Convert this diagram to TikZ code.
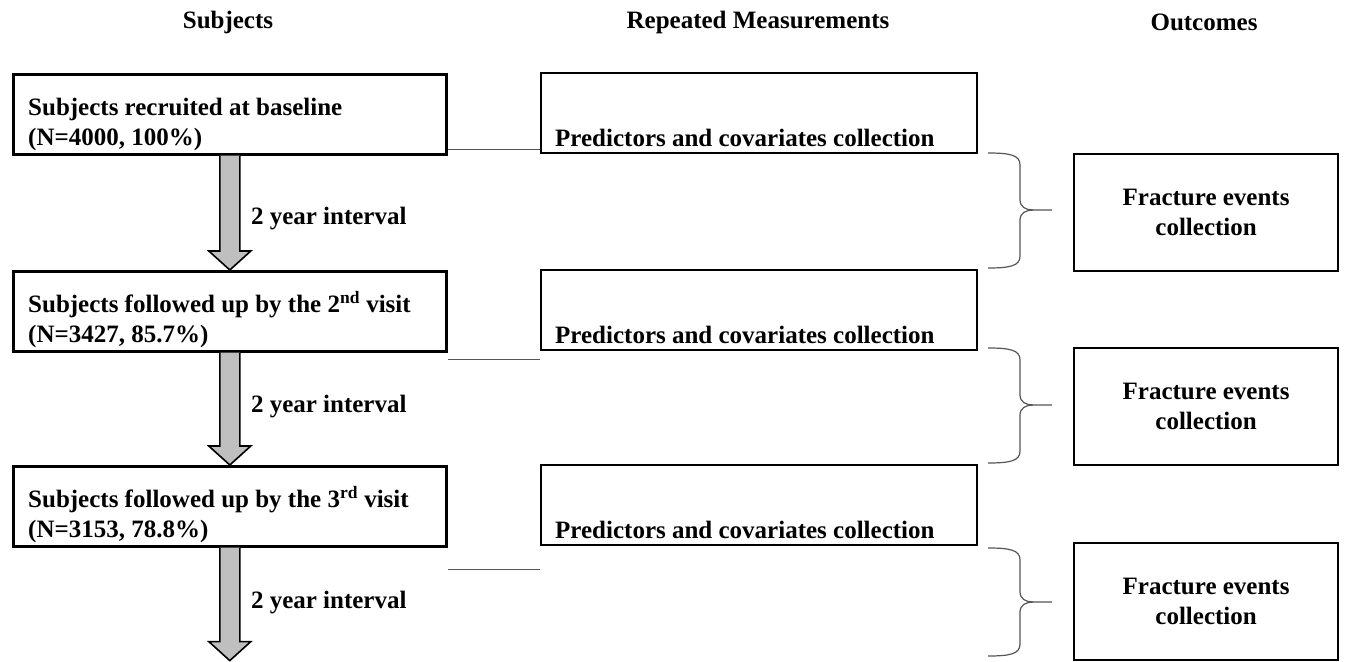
\documentclass[tikz,border=0pt]{standalone}
\usepackage{fontspec}
\setmainfont{Liberation Serif}
\usepackage{tikz}
\usetikzlibrary{calc}
\definecolor{arrowgray}{RGB}{191,191,191}
\definecolor{linegray}{RGB}{85,85,85}

\begin{document}
\begin{tikzpicture}[x=1pt, y=-1pt,
		font=\fontsize{25}{30}\selectfont\bfseries,
		subjbox/.style={draw, line width=2.6pt, minimum width=433pt, minimum height=80pt, anchor=north west, inner sep=0pt},
		measbox/.style={draw, line width=1.8pt, minimum width=436pt, minimum height=80pt, anchor=north west, inner sep=0pt},
		outbox/.style={draw, line width=2.2pt, minimum width=264pt, minimum height=117pt, anchor=north west, align=center},
		boxtext/.style={inner sep=0pt},
		thinline/.style={linegray, line width=1.2pt},
		bigarrow/.style={draw=black, fill=arrowgray, line width=1.6pt, line join=miter}]
				\useasboundingbox (0,0) rectangle (1346,661);
				% column headers
				\node (hsub) at (228,22) {Subjects};
				\node (hrep) at (758,22) {Repeated Measurements};
				\node (hout) at (1204,22) {Outcomes};
				% subjects column
				\node[subjbox] (sub1) at (12,73) {};
				\node[subjbox] (sub2) at (12,270) {};
				\node[subjbox] (sub3) at (12,465) {};
				\coordinate (fin) at ($(sub3.south)+(0,113)$);
				\node[boxtext, anchor=south west] (txt1) at ($(sub1.south west)+(16,-1)$)
					{\begin{tabular}{@{}l@{}}Subjects recruited at baseline\\(N=4000, 100\%)\end{tabular}};
				\node[boxtext, anchor=south west] (txt2) at ($(sub2.south west)+(16,-1)$)
					{\begin{tabular}{@{}l@{}}Subjects followed up by the 2\textsuperscript{nd} visit\\(N=3427, 85.7\%)\end{tabular}};
				\node[boxtext, anchor=south west] (txt3) at ($(sub3.south west)+(16,-1)$)
					{\begin{tabular}{@{}l@{}}Subjects followed up by the 3\textsuperscript{rd} visit\\(N=3153, 78.8\%)\end{tabular}};
				% interval arrows
				\foreach \a/\b/\n/\d in {sub1/sub2.north/1/6, sub2/sub3.north/2/-2, sub3/fin/3/-2} {
					\draw[bigarrow] ($(\a.south)+(-10,0)$) -- ($(\b)+(-10,-19)$) -- ($(\b)+(-21,-19)$) -- (\b)
						-- ($(\b)+(21,-19)$) -- ($(\b)+(10,-19)$) -- ($(\a.south)+(10,0)$);
					\node[anchor=west, inner sep=0pt] (gap\n) at ($(\a.south)!0.5!(\b)+(21,\d)$) {2 year interval};
				}
				% repeated measurements column
				\foreach \i/\y in {1/72, 2/269, 3/464} {
					\node[measbox] (meas\i) at (540,\y) {};
					\node[anchor=base west, inner sep=0pt] (pred\i) at ($(meas\i.south west)+(15,-7)$) {Predictors and covariates collection};
				}
				\foreach \i/\d in {1/-6.3, 2/6.7, 3/21.7} {
					\coordinate (link\i) at ($(sub\i.south east)+(0,\d)$);
					\draw[thinline] (link\i) -- (link\i -| meas\i.west);
				}
				% outcomes column
				\node[outbox] (out1) at (1073,153) {Fracture events\\collection};
				\node[outbox] (out2) at (1073,347) {Fracture events\\collection};
				\node[outbox] (out3) at (1073,542) {Fracture events\\collection};
				% braces
				\foreach \t/\m/\b in {153/210/268, 348/405/463, 548/602/656} {
					\draw[thinline] (988,\t) .. controls (1010,\t) and (1020,\t+2) .. (1020,\t+12) -- (1020,\m-10)
						.. controls (1020,\m-3) and (1026,\m) .. (1033,\m) -- (1052,\m);
					\draw[thinline] (988,\b) .. controls (1010,\b) and (1020,\b-2) .. (1020,\b-12) -- (1020,\m+10)
						.. controls (1020,\m+3) and (1026,\m) .. (1033,\m);
				}
			\end{tikzpicture}
\end{document}
